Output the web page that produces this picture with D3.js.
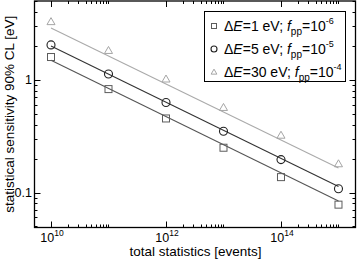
<!DOCTYPE html>
<html>
<head>
<meta charset="utf-8">
<script src="https://cdn.jsdelivr.net/npm/d3@7"></script>
<style>
  html, body { margin: 0; padding: 0; background: #fff; }
  svg { display: block; font-family: "Liberation Sans", Arial, sans-serif; }
</style>
</head>
<body>
<div id="chart"></div>
<script>
// 数据：总统计量（事件数）
const events = [1e10, 1e11, 1e12, 1e13, 1e14, 1e15]
// 三组灵敏度（eV）
const sensDE1 = [1.6, 0.83, 0.455, 0.25, 0.137, 0.078]
const sensDE5 = [2.05, 1.13, 0.63, 0.35, 0.196, 0.108]
const sensDE30 = [3.3, 1.83, 1.02, 0.57, 0.323, 0.18]
// 拟合直线端点
const fitX = [1e10, 1e15]
const fitDE1 = [1.5, 0.084]
const fitDE5 = [2.0, 0.113]
const fitDE30 = [2.9, 0.165]
// 刻度
const xMajor = [1e10, 1e12, 1e14]
const xMajorExp = ['10', '12', '14']
const yMajor = [0.1, 1]
const yMajorLabels = ['0.1', '1']

const width = 357
const height = 260
const margin = { top: 1, right: 1.5, bottom: 32.5, left: 34.5 }
const x0 = margin.left, x1 = width - margin.right
const y0 = margin.top, y1 = height - margin.bottom

const x = d3.scaleLog().domain([Math.pow(10, 9.713), Math.pow(10, 15.296)]).range([x0, x1])
const y = d3.scaleLog().domain([Math.pow(10, -1.311), Math.pow(10, 0.702)]).range([y1, y0])

const series = [
  { name: 'de1', values: sensDE1, fit: fitDE1, color: '#5c5c5c', lineColor: '#555', shape: 'square', dE: '1', exp: '-6' },
  { name: 'de5', values: sensDE5, fit: fitDE5, color: '#222', lineColor: '#333', shape: 'circle', dE: '5', exp: '-5' },
  { name: 'de30', values: sensDE30, fit: fitDE30, color: '#a5a5a5', lineColor: '#aaa', shape: 'triangle', dE: '30', exp: '-4' }
]

const svg = d3.select('#chart').append('svg')
  .attr('width', width)
  .attr('height', height)

// 次刻度
const xMinor = []
;[10, 12, 14].forEach(k => {
  for (let m = 2; m <= 10; m++) xMinor.push(m * Math.pow(10, k))
})
const yMinor = []
for (let k = -2; k <= 0; k++) {
  for (let m = 2; m <= 9; m++) {
    const v = m * Math.pow(10, k)
    if (v > y.domain()[0] && v < y.domain()[1]) yMinor.push(v)
  }
}

const tickG = svg.append('g').attr('stroke', '#000').attr('stroke-width', 1)
const addX = (vals, len) => {
  vals.forEach(v => {
    const px = Math.round(x(v)) + 0.5
    tickG.append('line').attr('x1', px).attr('x2', px).attr('y1', y1).attr('y2', y1 - len)
    tickG.append('line').attr('x1', px).attr('x2', px).attr('y1', y0).attr('y2', y0 + len)
  })
}
const addY = (vals, len) => {
  vals.forEach(v => {
    const py = Math.round(y(v)) + 0.5
    tickG.append('line').attr('y1', py).attr('y2', py).attr('x1', x0).attr('x2', x0 + len)
    tickG.append('line').attr('y1', py).attr('y2', py).attr('x1', x1).attr('x2', x1 - len)
  })
}
addX(xMinor, 3)
addX(xMajor, 6)
addY(yMinor, 3)
addY(yMajor, 6)

// 刻度标签
const xl = svg.append('g').attr('font-size', 12.5).attr('text-anchor', 'middle')
xMajor.forEach((v, i) => {
  const t = xl.append('text').attr('x', x(v) + 1).attr('y', 241.5)
  t.append('tspan').text('10')
  t.append('tspan').attr('font-size', 8.5).attr('dy', -6).text(xMajorExp[i])
})
svg.append('g').attr('font-size', 12.5).attr('text-anchor', 'end')
  .selectAll('text').data(yMajor).join('text')
  .attr('x', 32)
  .attr('y', d => y(d))
  .attr('dy', '0.35em')
  .text((d, i) => yMajorLabels[i])

// 轴标题
svg.append('text')
  .attr('x', 195.5)
  .attr('y', 256)
  .attr('font-size', 13.5)
  .attr('text-anchor', 'middle')
  .text('total statistics [events]')
svg.append('text')
  .attr('transform', `translate(14, ${(y0 + y1) / 2}) rotate(-90)`)
  .attr('font-size', 13.5)
  .attr('text-anchor', 'middle')
  .text('statistical sensitivity 90% CL [eV]')

// 拟合线
const line = d3.line().x(d => x(d[0])).y(d => y(d[1]))
series.forEach(s => {
  svg.append('path')
    .attr('d', line(fitX.map((v, i) => [v, s.fit[i]])))
    .attr('fill', 'none')
    .attr('stroke', s.lineColor)
    .attr('stroke-width', 1.1)
})

// 标记
const drawMarker = (g, shape, cx, cy, size, color) => {
  if (shape === 'square') {
    g.append('rect').attr('x', cx - size / 2).attr('y', cy - size / 2)
      .attr('width', size).attr('height', size)
      .attr('fill', 'none').attr('stroke', color).attr('stroke-width', 1)
  } else if (shape === 'circle') {
    g.append('circle').attr('cx', cx).attr('cy', cy).attr('r', size / 2 + 0.5)
      .attr('fill', 'none').attr('stroke', color).attr('stroke-width', 1.1)
  } else {
    const h = size * 0.95
    const w = size * 1.15
    g.append('path')
      .attr('d', `M${cx},${cy - h * 0.6}L${cx + w / 2},${cy + h * 0.45}L${cx - w / 2},${cy + h * 0.45}Z`)
      .attr('fill', 'none').attr('stroke', color).attr('stroke-width', 1)
  }
}
const markG = svg.append('g')
series.forEach(s => {
  s.values.forEach((v, i) => drawMarker(markG, s.shape, x(events[i]), y(v), 7, s.color))
})

// 边框
svg.append('rect')
  .attr('x', x0).attr('y', y0)
  .attr('width', x1 - x0).attr('height', y1 - y0)
  .attr('fill', 'none').attr('stroke', '#000').attr('stroke-width', 1.3)

// 图例
const lg = svg.append('g')
lg.append('rect')
  .attr('x', 204.5).attr('y', 11.5).attr('width', 141).attr('height', 70)
  .attr('fill', '#fff').attr('stroke', '#000').attr('stroke-width', 1)
series.forEach((s, i) => {
  const by = 31 + i * 23
  drawMarker(lg, s.shape, 214, by - 5, 5, s.color)
  const t = lg.append('text').attr('x', 224).attr('y', by).attr('font-size', 14)
  t.append('tspan').text('Δ')
  t.append('tspan').attr('font-style', 'italic').text('E')
  t.append('tspan').text(`=${s.dE} eV; `)
  t.append('tspan').attr('font-style', 'italic').text('f')
  t.append('tspan').attr('font-size', 10).attr('dy', 4).text('pp')
  t.append('tspan').attr('dy', -4).text('=10')
  t.append('tspan').attr('font-size', 9).attr('dy', -7).text(s.exp)
})
</script>
</body>
</html>
